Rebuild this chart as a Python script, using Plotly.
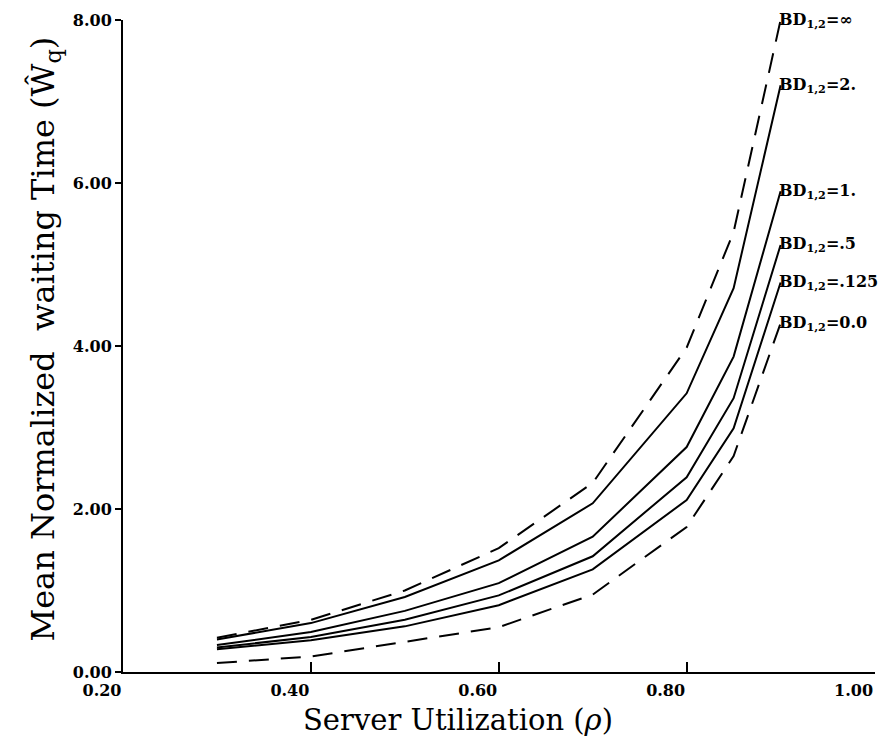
import plotly.graph_objects as go

rho = [0.3, 0.4, 0.5, 0.6, 0.7, 0.8, 0.85, 0.9]

bd_inf = [0.42, 0.64, 1.00, 1.52, 2.32, 3.98, 5.40, 8.0]
bd_2 = [0.40, 0.60, 0.92, 1.37, 2.07, 3.42, 4.71, 7.20]
bd_1 = [0.33, 0.49, 0.75, 1.09, 1.66, 2.76, 3.87, 5.90]
bd_05 = [0.30, 0.43, 0.64, 0.94, 1.42, 2.39, 3.36, 5.24]
bd_0125 = [0.28, 0.39, 0.56, 0.82, 1.26, 2.11, 2.99, 4.78]
bd_0 = [0.11, 0.19, 0.37, 0.55, 0.95, 1.78, 2.65, 4.28]

series = [
    ("BD<sub>1,2</sub>=∞", bd_inf, True),
    ("BD<sub>1,2</sub>=2.", bd_2, False),
    ("BD<sub>1,2</sub>=1.", bd_1, False),
    ("BD<sub>1,2</sub>=.5", bd_05, False),
    ("BD<sub>1,2</sub>=.125", bd_0125, False),
    ("BD<sub>1,2</sub>=0.0", bd_0, True),
]

x_ticks = [0.2, 0.4, 0.6, 0.8, 1.0]
x_ticklabels = ["0.20", "0.40", "0.60", "0.80", "1.00"]
y_ticks = [0, 2, 4, 6, 8]
y_ticklabels = ["0.00", "2.00", "4.00", "6.00", "8.00"]
x_title = "Server Utilization (<i>ρ</i>)"
y_title = "Mean Normalized  waiting Time (Ŵ<sub>q</sub>)"

fig = go.Figure()
for name, ys, dashed in series:
    fig.add_trace(go.Scatter(
        x=rho, y=ys, mode="lines", name=name,
        line=dict(color="black", width=2,
                  dash="20px,12px" if dashed else "solid"),
        showlegend=False, cliponaxis=False,
    ))
    fig.add_annotation(
        x=rho[-1], y=ys[-1], text="<b>" + name + "</b>", showarrow=False,
        xanchor="left", yanchor="middle", xshift=-4,
        font=dict(family="DejaVu Serif", size=16, color="black"),
    )

fig.add_annotation(
    xref="paper", yref="paper", x=0.4455, y=-0.074, text=x_title, showarrow=False,
    xanchor="center", yanchor="middle",
    font=dict(family="DejaVu Serif", size=29, color="black"),
)
fig.add_annotation(
    xref="paper", yref="paper", x=-0.104, y=0.511, text=y_title, showarrow=False,
    xanchor="center", yanchor="middle", textangle=-90,
    font=dict(family="DejaVu Serif", size=32, color="black"),
)

fig.update_layout(
    width=890, height=743,
    margin=dict(l=123, r=15, t=20, b=71),
    paper_bgcolor="white", plot_bgcolor="white",
    font=dict(family="DejaVu Serif", color="black"),
    xaxis=dict(
        range=[0.2, 1.0005], tickvals=x_ticks,
        ticktext=["<b>" + t + "</b>" for t in x_ticklabels],
        showgrid=False, zeroline=False, showline=True, linecolor="black", linewidth=2,
        ticks="inside", ticklen=10, tickwidth=2, tickcolor="black",
        tickfont=dict(family="DejaVu Serif", size=16),
        ticklabelshift=-21, ticklabelstandoff=3, ticklabeloverflow="allow",
    ),
    yaxis=dict(
        range=[0, 8.0005], tickvals=y_ticks,
        ticktext=["<b>" + t + "</b>" for t in y_ticklabels],
        showgrid=False, zeroline=False, showline=True, linecolor="black", linewidth=2,
        ticks="outside", ticklen=6, tickwidth=2, tickcolor="black",
        tickfont=dict(family="DejaVu Serif", size=16),
    ),
)

fig.write_html(
    "out.html",
    config={"displayModeBar": False},
    post_script="document.body.style.margin='0';document.body.style.overflow='hidden';",
)
